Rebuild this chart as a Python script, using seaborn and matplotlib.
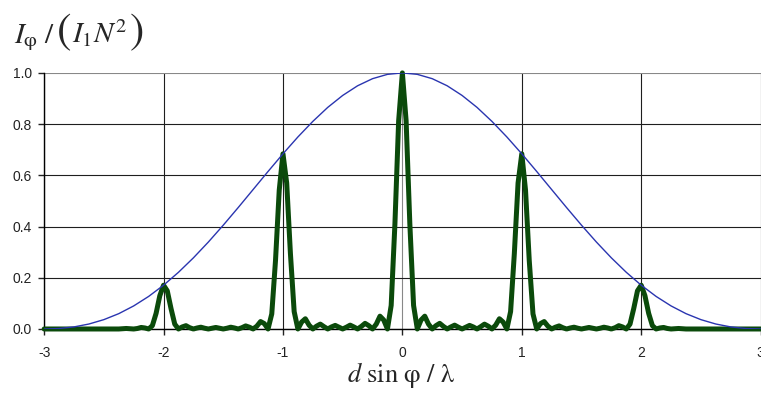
import matplotlib
matplotlib.use("Agg")
import pandas as pd
import matplotlib.pyplot as plt
import seaborn as sns

# single-slit envelope (blue), sampled every 0.125
env_x = [-3.0, -2.875, -2.75, -2.625, -2.5, -2.375, -2.25, -2.125,
         -2.0, -1.875, -1.75, -1.625, -1.5, -1.375, -1.25, -1.125,
         -1.0, -0.875, -0.75, -0.625, -0.5, -0.375, -0.25, -0.125,
         0.0,
         0.125, 0.25, 0.375, 0.5, 0.625, 0.75, 0.875, 1.0,
         1.125, 1.25, 1.375, 1.5, 1.625, 1.75, 1.875, 2.0,
         2.125, 2.25, 2.375, 2.5, 2.625, 2.75, 2.875, 3.0]
env_y = [0.0, 0.0019, 0.0081, 0.0194, 0.0365, 0.0599, 0.0901, 0.1271,
         0.1710, 0.2214, 0.2778, 0.3394, 0.4053, 0.4741, 0.5445, 0.6150,
         0.6840, 0.7498, 0.8106, 0.8653, 0.9119, 0.9497, 0.9774, 0.9943,
         1.0,
         0.9943, 0.9774, 0.9497, 0.9119, 0.8653, 0.8106, 0.7498, 0.6840,
         0.6150, 0.5445, 0.4741, 0.4053, 0.3394, 0.2778, 0.2214, 0.1710,
         0.1271, 0.0901, 0.0599, 0.0365, 0.0194, 0.0081, 0.0019, 0.0]

# grating pattern (green)
grat_x = [-3.0, -2.375, -2.34375, -2.3125, -2.28125, -2.25, -2.21875, -2.1875,
          -2.15625, -2.125, -2.09375, -2.0625, -2.03125,
          -2.0, -1.96875, -1.9375, -1.90625, -1.875, -1.84375, -1.8125, -1.78125,
          -1.75, -1.71875, -1.6875, -1.65625, -1.625, -1.59375, -1.5625, -1.53125,
          -1.5, -1.46875, -1.4375, -1.40625, -1.375, -1.34375, -1.3125, -1.28125,
          -1.25, -1.21875, -1.1875, -1.15625, -1.125, -1.09375, -1.0625, -1.03125,
          -1.0, -0.96875, -0.9375, -0.90625, -0.875, -0.84375, -0.8125, -0.78125,
          -0.75, -0.71875, -0.6875, -0.65625, -0.625, -0.59375, -0.5625, -0.53125,
          -0.5, -0.46875, -0.4375, -0.40625, -0.375, -0.34375, -0.3125, -0.28125,
          -0.25, -0.21875, -0.1875, -0.15625, -0.125, -0.09375, -0.0625, -0.03125,
          0.0,
          0.03125, 0.0625, 0.09375, 0.125, 0.15625, 0.1875, 0.21875, 0.25,
          0.28125, 0.3125, 0.34375, 0.375, 0.40625, 0.4375, 0.46875, 0.5,
          0.53125, 0.5625, 0.59375, 0.625, 0.65625, 0.6875, 0.71875, 0.75,
          0.78125, 0.8125, 0.84375, 0.875, 0.90625, 0.9375, 0.96875, 1.0,
          1.03125, 1.0625, 1.09375, 1.125, 1.15625, 1.1875, 1.21875, 1.25,
          1.28125, 1.3125, 1.34375, 1.375, 1.40625, 1.4375, 1.46875, 1.5,
          1.53125, 1.5625, 1.59375, 1.625, 1.65625, 1.6875, 1.71875, 1.75,
          1.78125, 1.8125, 1.84375, 1.875, 1.90625, 1.9375, 1.96875, 2.0,
          2.03125, 2.0625, 2.09375, 2.125, 2.15625, 2.1875, 2.21875, 2.25,
          2.28125, 2.3125, 2.34375, 2.375, 3.0]
grat_y = [0.0, 0.0, 0.001, 0.002, 0.001, 0.0, 0.002, 0.006,
          0.004, 0.0, 0.013, 0.061, 0.130,
          0.171, 0.149, 0.080, 0.019, 0.0, 0.008, 0.013, 0.005,
          0.0, 0.004, 0.007, 0.003, 0.0, 0.003, 0.006, 0.003,
          0.0, 0.003, 0.007, 0.004, 0.0, 0.005, 0.012, 0.007,
          0.0, 0.011, 0.029, 0.021, 0.0, 0.059, 0.267, 0.542,
          0.684, 0.570, 0.294, 0.068, 0.0, 0.027, 0.040, 0.015,
          0.0, 0.011, 0.019, 0.009, 0.0, 0.008, 0.014, 0.007,
          0.0, 0.007, 0.015, 0.008, 0.0, 0.010, 0.022, 0.013,
          0.0, 0.019, 0.050, 0.035, 0.0, 0.092, 0.410, 0.813,
          1.0,
          0.813, 0.410, 0.092, 0.0, 0.035, 0.050, 0.019, 0.0,
          0.013, 0.022, 0.010, 0.0, 0.008, 0.015, 0.007, 0.0,
          0.007, 0.014, 0.008, 0.0, 0.009, 0.019, 0.011, 0.0,
          0.015, 0.040, 0.027, 0.0, 0.068, 0.294, 0.570, 0.684,
          0.542, 0.267, 0.059, 0.0, 0.021, 0.029, 0.011, 0.0,
          0.007, 0.012, 0.005, 0.0, 0.004, 0.007, 0.003, 0.0,
          0.003, 0.006, 0.003, 0.0, 0.003, 0.007, 0.004, 0.0,
          0.005, 0.013, 0.008, 0.0, 0.019, 0.080, 0.149, 0.171,
          0.130, 0.061, 0.013, 0.0, 0.004, 0.006, 0.002, 0.0,
          0.001, 0.002, 0.001, 0.0, 0.0]

x_ticks = [-3, -2, -1, 0, 1, 2, 3]
x_labels = ["-3", "-2", "-1", "0", "1", "2", "3"]
y_ticks = [0.0, 0.2, 0.4, 0.6, 0.8, 1.0]
y_labels = ["0.0", "0.2", "0.4", "0.6", "0.8", "1.0"]

sns.set_theme(style="white")
plt.rcParams['font.family'] = ['Liberation Sans', 'DejaVu Sans']
plt.rcParams['mathtext.fontset'] = 'stix'

env = pd.DataFrame({"x": env_x, "y": env_y})
grat = pd.DataFrame({"x": grat_x, "y": grat_y})

W, H = 761, 394
fig = plt.figure(figsize=(W / 100, H / 100), dpi=100)
ax = fig.add_axes([0.058, 0.165, 0.9415, 0.65])

sns.lineplot(data=grat, x="x", y="y", ax=ax, color="#0b4a0b", lw=3.6,
             clip_on=False, zorder=3, sort=False)
sns.lineplot(data=env, x="x", y="y", ax=ax, color="#2a35b0", lw=1.0,
             zorder=4, sort=False)

ax.set_xlim(-3, 3)
ax.set_ylim(0, 1)
ax.set_xticks(x_ticks)
ax.set_xticklabels(x_labels)
ax.set_yticks(y_ticks)
ax.set_yticklabels(y_labels)
ax.tick_params(axis="both", labelsize=10, colors="#222222", length=4,
               width=1, direction="out", left=True, bottom=True)
ax.tick_params(axis="x", pad=8)
ax.tick_params(axis="y", pad=5)

ax.grid(True, color="#1e1e1e", lw=0.8)
ax.get_xgridlines()[3].set_color("#888888")
ax.get_ygridlines()[5].set_color("#888888")
ax.set_axisbelow(True)

for s in ["top", "right"]:
    ax.spines[s].set_visible(False)
for s in ["left", "bottom"]:
    ax.spines[s].set_color("black")
    ax.spines[s].set_linewidth(1)

ax.set_xlabel("")
ax.set_ylabel("")

# x axis title
fig.text(401 / W, 1 - 382 / H,
         r"$d\ \sin\,\mathrm{\varphi}\ /\ \mathrm{\lambda}$",
         fontsize=19, ha="center", va="baseline")

# y axis title, built in pieces so the brackets can be tall
renderer = fig.canvas.get_renderer()
yb = 1 - 43 / H


def put(s, x_px, size):
    t = fig.text(x_px / W, yb, s, fontsize=size, ha="left", va="baseline")
    return t.get_window_extent(renderer).x1


x_px = put(r"$I_{\mathrm{\varphi}}\ /$", 14, 21)
x_px = put(r"$($", x_px + 1, 31)
x_px = put(r"$I_1 N^2$", x_px + 1, 21)
put(r"$)$", x_px + 1, 31)

fig.savefig("out.png", dpi=100)
